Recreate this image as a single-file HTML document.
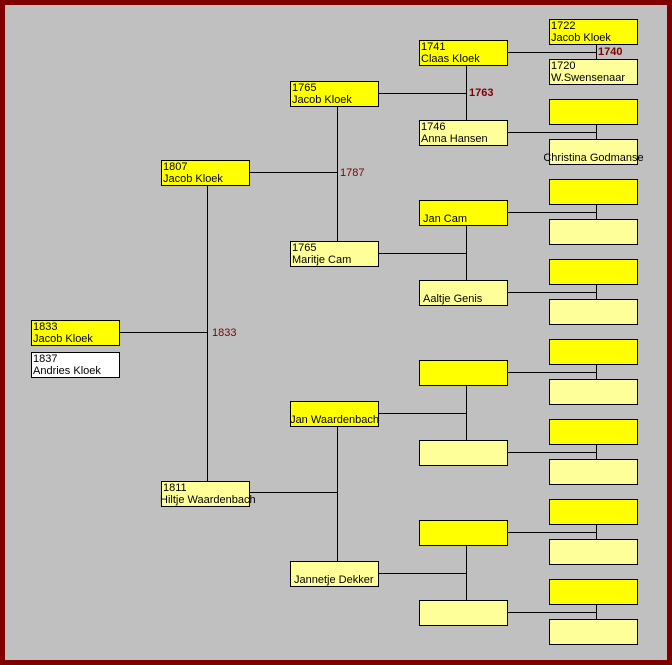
<!DOCTYPE html>
<html><head><meta charset="utf-8"><style>
html,body{margin:0;padding:0}
body{width:672px;height:665px;position:relative;background:#c0c0c0;overflow:hidden;font-family:"Liberation Sans",sans-serif;font-size:11px}
.frame{position:absolute;left:0;top:0;width:662px;height:655px;border:5px solid #800000}
.b{position:absolute;box-sizing:border-box;border:1px solid #000;width:89px;height:26px;line-height:12px;padding:0 0 0 1px;white-space:nowrap;color:#000}
.y{background:#ffff00}.l{background:#ffff99}.w{background:#fff}
.c{text-align:center;padding:12px 0 0 0;display:flex;justify-content:center}
.bt{padding-top:12px}
svg{position:absolute;left:0;top:0}
.lab{position:absolute;color:#800000;font-size:11px}
</style></head><body>
<div class="frame"></div>
<svg width="672" height="665" stroke="#000" stroke-width="1" shape-rendering="crispEdges">
<line x1="119" y1="332.5" x2="207.5" y2="332.5"/>
<line x1="207.5" y1="185" x2="207.5" y2="481"/>
<line x1="249" y1="172.5" x2="337.5" y2="172.5"/>
<line x1="337.5" y1="106" x2="337.5" y2="241"/>
<line x1="249" y1="492.5" x2="337.5" y2="492.5"/>
<line x1="337.5" y1="426" x2="337.5" y2="561"/>
<line x1="379" y1="93.5" x2="466.5" y2="93.5"/><line x1="466.5" y1="65" x2="466.5" y2="120"/>
<line x1="379" y1="253.5" x2="466.5" y2="253.5"/><line x1="466.5" y1="225" x2="466.5" y2="280"/>
<line x1="379" y1="413.5" x2="466.5" y2="413.5"/><line x1="466.5" y1="385" x2="466.5" y2="440"/>
<line x1="379" y1="573.5" x2="466.5" y2="573.5"/><line x1="466.5" y1="545" x2="466.5" y2="600"/>
<g>
<line x1="508" y1="52.5" x2="596.5" y2="52.5"/><line x1="596.5" y1="44" x2="596.5" y2="59"/>
<line x1="508" y1="132.5" x2="596.5" y2="132.5"/><line x1="596.5" y1="124" x2="596.5" y2="139"/>
<line x1="508" y1="212.5" x2="596.5" y2="212.5"/><line x1="596.5" y1="204" x2="596.5" y2="219"/>
<line x1="508" y1="292.5" x2="596.5" y2="292.5"/><line x1="596.5" y1="284" x2="596.5" y2="299"/>
<line x1="508" y1="372.5" x2="596.5" y2="372.5"/><line x1="596.5" y1="364" x2="596.5" y2="379"/>
<line x1="508" y1="452.5" x2="596.5" y2="452.5"/><line x1="596.5" y1="444" x2="596.5" y2="459"/>
<line x1="508" y1="532.5" x2="596.5" y2="532.5"/><line x1="596.5" y1="524" x2="596.5" y2="539"/>
<line x1="508" y1="612.5" x2="596.5" y2="612.5"/><line x1="596.5" y1="604" x2="596.5" y2="619"/>
</g>
</svg>
<div class="lab" style="left:212px;top:327px">1833</div>
<div class="lab" style="left:340px;top:167px">1787</div>
<div class="lab" style="left:469px;top:87px;font-weight:bold">1763</div>
<div class="lab" style="left:598px;top:46px;font-weight:bold">1740</div>

<div class="b y" style="left:31px;top:320px">1833<br>Jacob Kloek</div>
<div class="b w" style="left:31px;top:352px">1837<br>Andries Kloek</div>
<div class="b y" style="left:161px;top:160px">1807<br>Jacob Kloek</div>
<div class="b l" style="left:161px;top:481px"><div>1811</div><div style="margin-left:-3px">Hiltje Waardenbach</div></div>
<div class="b y" style="left:290px;top:81px">1765<br>Jacob Kloek</div>
<div class="b l" style="left:290px;top:241px">1765<br>Maritje Cam</div>
<div class="b y c" style="left:290px;top:401px">Jan Waardenbach</div>
<div class="b l bt" style="left:290px;top:561px;padding-left:3px">Jannetje Dekker</div>

<div class="b y" style="left:419px;top:40px">1741<br>Claas Kloek</div>
<div class="b l" style="left:419px;top:120px">1746<br>Anna Hansen</div>
<div class="b y bt" style="left:419px;top:200px;padding-left:3px">Jan Cam</div>
<div class="b l bt" style="left:419px;top:280px;padding-left:3px">Aaltje Genis</div>
<div class="b y" style="left:419px;top:360px"></div>
<div class="b l" style="left:419px;top:440px"></div>
<div class="b y" style="left:419px;top:520px"></div>
<div class="b l" style="left:419px;top:600px"></div>

<div class="b y" style="left:549px;top:19px">1722<br>Jacob Kloek</div>
<div class="b l" style="left:549px;top:59px">1720<br>W.Swensenaar</div>
<div class="b y" style="left:549px;top:99px"></div>
<div class="b l c" style="left:549px;top:139px">Christina Godmanse</div>
<div class="b y" style="left:549px;top:179px"></div>
<div class="b l" style="left:549px;top:219px"></div>
<div class="b y" style="left:549px;top:259px"></div>
<div class="b l" style="left:549px;top:299px"></div>
<div class="b y" style="left:549px;top:339px"></div>
<div class="b l" style="left:549px;top:379px"></div>
<div class="b y" style="left:549px;top:419px"></div>
<div class="b l" style="left:549px;top:459px"></div>
<div class="b y" style="left:549px;top:499px"></div>
<div class="b l" style="left:549px;top:539px"></div>
<div class="b y" style="left:549px;top:579px"></div>
<div class="b l" style="left:549px;top:619px"></div>
</body></html>
